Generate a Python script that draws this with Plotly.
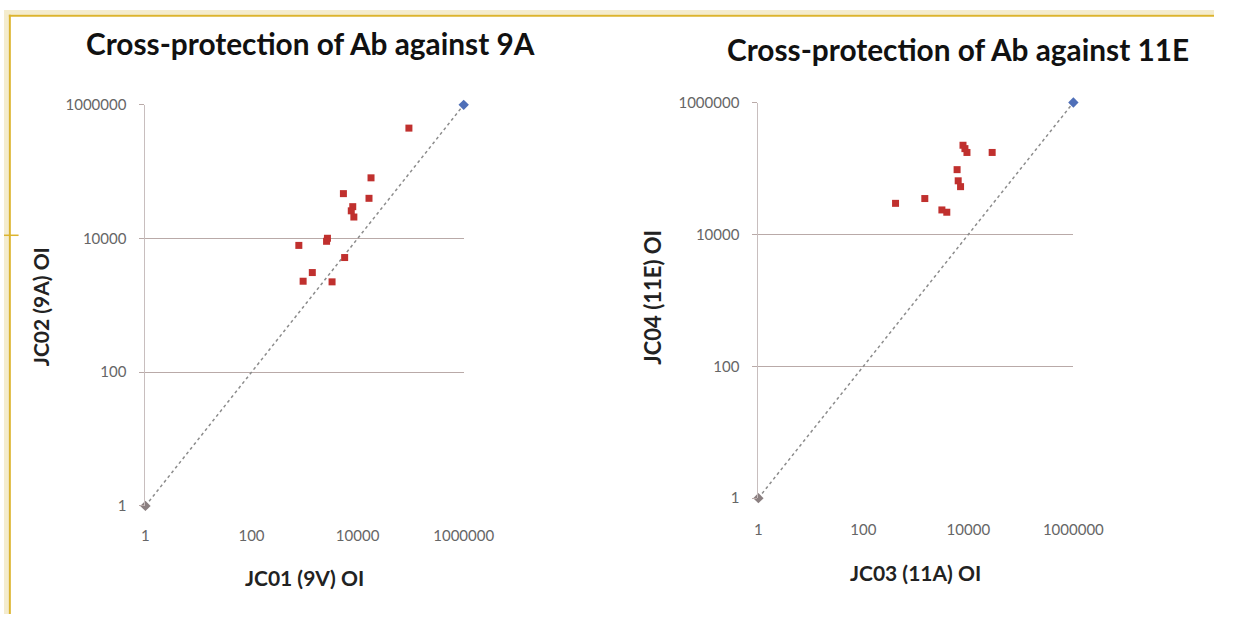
import plotly.graph_objects as go

# ---- data ----
jc01_9v = [92700, 17900, 5400, 16400, 8100, 7600, 8500, 2700, 2600, 780, 5700, 1400, 940, 3300]
jc02_9a = [449000, 81000, 47000, 40000, 30000, 26000, 21000, 10100, 9100, 7900, 5200, 3100, 2300, 2250]

jc03_11a = [7900, 8600, 9400, 28400, 6100, 6400, 7100, 1480, 410, 3130, 3880]
jc04_11e = [225000, 200000, 175000, 175000, 96000, 65000, 53000, 35000, 29600, 23500, 21700]

ref_x = [1, 1000000]
ref_y = [1, 1000000]

tick_vals = [1, 100, 10000, 1000000]
tick_text = ["1", "100", "10000", "1000000"]

titles = ["Cross-protection of Ab against 9A", "Cross-protection of Ab against 11E"]
x_titles = ["JC01 (9V) OI", "JC03 (11A) OI"]
y_titles = ["JC02 (9A) OI", "JC04 (11E) OI"]

W, H = 1245, 622
RED = "#c0302e"
GRID = "#b9aaa8"
LINE = "#8c8c8c"
FONT = "Lato"
TICKC = "#666666"

fig = go.Figure()

panels = [
    dict(xs=jc01_9v, ys=jc02_9a, xa="x", ya="y",
         xdom=(145.5, 473.0), ydom=(97.7, 510.7), xstand=19),
    dict(xs=jc03_11a, ys=jc04_11e, xa="x2", ya="y2",
         xdom=(776.2, 1100.3), ydom=(95.3, 502.7), xstand=21),
]

for i, p in enumerate(panels):
    fig.add_trace(go.Scatter(x=ref_x, y=ref_y, mode="lines",
                             line=dict(color=LINE, width=1.5, dash="dot"),
                             xaxis=p["xa"], yaxis=p["ya"], showlegend=False,
                             hoverinfo="skip"))
    fig.add_trace(go.Scatter(x=ref_x[:1], y=ref_y[:1], mode="markers",
                             marker=dict(symbol="diamond", size=8, color="#8a7f80"),
                             xaxis=p["xa"], yaxis=p["ya"], showlegend=False,
                             cliponaxis=False))
    fig.add_trace(go.Scatter(x=ref_x[1:], y=ref_y[1:], mode="markers",
                             marker=dict(symbol="diamond", size=8, color="#4f6fb8"),
                             xaxis=p["xa"], yaxis=p["ya"], showlegend=False,
                             cliponaxis=False))
    fig.add_trace(go.Scatter(x=p["xs"], y=p["ys"], mode="markers",
                             marker=dict(symbol="square", size=7, color=RED),
                             xaxis=p["xa"], yaxis=p["ya"], showlegend=False,
                             cliponaxis=False))

layout = dict(
    autosize=True,
    margin=dict(l=0, r=0, t=0, b=0),
    paper_bgcolor="white", plot_bgcolor="white",
    font=dict(family=FONT, color=TICKC, size=15),
    showlegend=False,
)

for i, p in enumerate(panels):
    sfx = "" if i == 0 else str(i + 1)
    x0, x1 = p["xdom"]
    y0, y1 = p["ydom"]
    layout["xaxis" + sfx] = dict(
        type="log", range=[0, 6], domain=[x0 / W, x1 / W],
        anchor="y" + sfx, tickmode="array", tickvals=tick_vals, ticktext=tick_text,
        showgrid=False, zeroline=False, showline=False,
        ticks="", ticklabelstandoff=p["xstand"],
        tickfont=dict(family=FONT, size=15, color=TICKC),
    )
    layout["yaxis" + sfx] = dict(
        type="log", range=[0, 6], domain=[1 - y1 / H, 1 - y0 / H],
        anchor="x" + sfx, tickmode="array", tickvals=tick_vals, ticktext=tick_text,
        showgrid=True, gridcolor=GRID, gridwidth=1, zeroline=False,
        showline=True, linecolor="#c8bebe", linewidth=1,
        ticks="outside", ticklen=5, tickcolor=GRID, ticklabelstandoff=10,
        tickfont=dict(family=FONT, size=15, color=TICKC),
    )

fig.update_layout(**layout)

title_pos = [(315, 34), (982, 41)]
xt_pos = [(309, 584), (938, 579)]
yt_pos = [(37, 305), (667, 296)]
yt_size = [21, 22]
for i in range(2):
    fig.add_annotation(x=title_pos[i][0] / W, y=1 - title_pos[i][1] / H, xref="paper", yref="paper",
                       xanchor="center", yanchor="middle",
                       text="<b>" + titles[i] + "</b>", showarrow=False,
                       font=dict(family=FONT, size=29.8, color="#111111"))
    fig.add_annotation(x=xt_pos[i][0] / W, y=1 - xt_pos[i][1] / H, xref="paper", yref="paper",
                       xanchor="center", yanchor="middle",
                       text="<b>" + x_titles[i] + "</b>", showarrow=False,
                       font=dict(family=FONT, size=21, color="#222222"))
    fig.add_annotation(x=yt_pos[i][0] / W, y=1 - yt_pos[i][1] / H, xref="paper", yref="paper",
                       xanchor="center", yanchor="middle",
                       text="<b>" + y_titles[i] + "</b>", showarrow=False, textangle=-90,
                       font=dict(family=FONT, size=yt_size[i], color="#222222"))

shapes = [
    dict(type="rect", xref="paper", yref="paper", x0=0, x1=1, y0=1 - 5 / H, y1=1,
         fillcolor="#f4ecce", line=dict(width=0), layer="below"),
    dict(type="rect", xref="paper", yref="paper", x0=0, x1=5 / W, y0=0, y1=1,
         fillcolor="#f4ecce", line=dict(width=0), layer="below"),
    dict(type="line", xref="paper", yref="paper", x0=5 / W, x1=1, y0=1 - 6 / H, y1=1 - 6 / H,
         line=dict(color="#dcb42e", width=2)),
    dict(type="line", xref="paper", yref="paper", x0=6 / W, x1=6 / W, y0=0, y1=1 - 5 / H,
         line=dict(color="#dcb42e", width=2)),
    dict(type="line", xref="paper", yref="paper", x0=0, x1=15 / W, y0=1 - 232 / H, y1=1 - 232 / H,
         line=dict(color="#dcb42e", width=1.5)),
]
fig.update_layout(shapes=shapes)

fig.write_html(
    "out.html",
    default_width="100vw",
    default_height="100vh",
    config={"responsive": True},
    post_script="document.documentElement.style.margin='0';"
                "document.body.style.margin='0';document.body.style.padding='0';"
                "document.body.style.overflow='hidden';",
)
